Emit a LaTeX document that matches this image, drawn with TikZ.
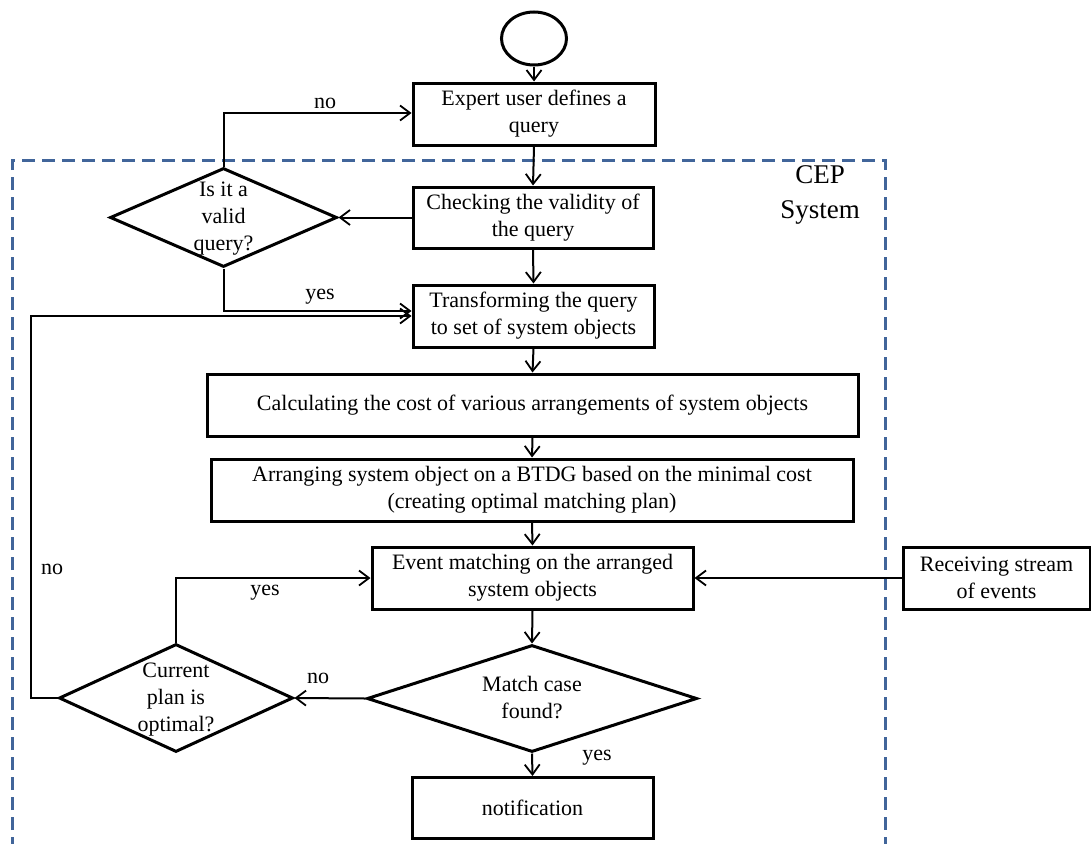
\documentclass[tikz,border=0pt]{standalone}
\usepackage{fontspec}
\setmainfont{Liberation Serif}
\usetikzlibrary{arrows.meta,shapes.geometric}
\definecolor{dashblue}{HTML}{41659A}
\begin{document}
\begin{tikzpicture}[x=1pt,y=-1pt,
  every node/.style={font=\fontsize{22}{27}\selectfont},
  box/.style={draw,line width=3pt,inner sep=0pt,align=center},
  dia/.style={draw,diamond,line width=3pt,inner sep=0pt},
  txt/.style={align=center,inner sep=0pt},
  lbl/.style={inner sep=0pt},
  conn/.style={line width=2pt,-{Straight Barb[length=10pt,width=15pt,line width=1.8pt]}},
  dashrect/.style={dashblue,line width=3pt,dash pattern=on 13pt off 7pt}]
\useasboundingbox (0,0) rectangle (1091,843);
% system frame
\draw[dashrect] (12,850) -- (12,160) -- (885,160) -- (885,850);
\node[txt,font=\fontsize{27}{35}\selectfont] (cep) at (820,195) {CEP\\System};
% nodes
\node[draw,ellipse,line width=3pt,minimum width=65pt,minimum height=53pt,inner sep=0pt] (start) at (534,38.5) {};
\node[box,minimum width=242pt,minimum height=62pt] (b1) at (534,114) {Expert user defines a\\query};
\node[box,minimum width=240pt,minimum height=61pt] (b2) at (533,217.5) {Checking the validity of\\the query};
\node[box,minimum width=241pt,minimum height=62pt] (b3) at (533.5,316) {Transforming the query\\to set of system objects};
\node[box,minimum width=651pt,minimum height=62pt] (b4) at (532.5,405) {Calculating the cost of various arrangements of system objects};
\node[box,minimum width=642pt,minimum height=62pt] (b5) at (532,490) {Arranging system object on a BTDG based on the minimal cost\\(creating optimal matching plan)};
\node[box,minimum width=321pt,minimum height=62pt] (b6) at (532.5,578) {Event matching on the arranged\\system objects};
\node[box,minimum width=187pt,minimum height=62pt] (recv) at (996.5,578) {Receiving stream\\of events};
\node[box,minimum width=241pt,minimum height=61pt] (notif) at (532.5,808) {notification};
\node[dia,minimum width=227pt,minimum height=99pt] (d1) at (223.5,217.5) {};
\node[txt] (d1t) at (223.5,219) {Is it a\\valid\\query?};
\node[dia,minimum width=330pt,minimum height=107pt] (d2) at (532,698.5) {};
\node[txt] (d2t) at (532,698) {Match case\\found?};
\node[dia,minimum width=234pt,minimum height=108pt] (d3) at (176,698) {};
\node[txt] (d3t) at (176,700) {Current\\plan is\\optimal?};
\coordinate (lp) at (31,698);
% connectors
\draw[conn] (start.south) -- (b1.north);
\draw[conn] (b1.south) -- (b2.north);
\draw[conn] (b2.west) -- (d1.east);
\draw[conn] (d1.north) |- ([yshift=1pt]b1.west);
\draw[conn] (d1.south) |- ([yshift=5pt]b3.west);
\draw[conn] (b2.south) -- (b3.north);
\draw[conn] (b3.south) -- (b4.north);
\draw[conn] (b4.south) -- (b5.north);
\draw[conn] (b5.south) -- (b6.north);
\draw[conn] (recv.west) -- (b6.east);
\draw[conn] (b6.south) -- (d2.north);
\draw[conn] (d2.west) -- (d3.east);
\draw[conn] (d3.north) |- (b6.west);
\draw[conn] (d3.west) -- (lp) |- (b3.west);
\draw[conn] (d2.south) -- (notif.north);
% labels
\node[lbl] (lno1) at (325,103) {no};
\node[lbl] (lyes1) at (320,297) {yes};
\node[lbl] (lno2) at (52,569) {no};
\node[lbl] (lyes2) at (265,593) {yes};
\node[lbl] (lno3) at (318,678) {no};
\node[lbl] (lyes3) at (597,758) {yes};
\end{tikzpicture}
\end{document}
